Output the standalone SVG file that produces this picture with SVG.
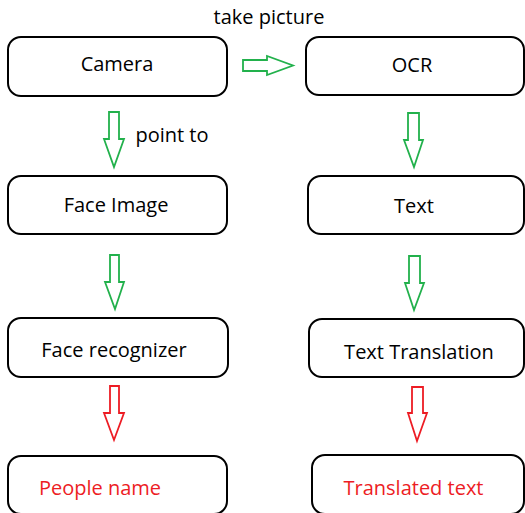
<svg xmlns="http://www.w3.org/2000/svg" width="525" height="513" viewBox="0 0 525 513">
<style>
.box{fill:#fff;stroke:#000;stroke-width:2}
.t{font-family:"Open Sans","Noto Sans",sans-serif;font-size:20px;fill:#000;text-anchor:middle}
.r{fill:#ed1c24}
.ga{fill:none;stroke:#22b14c;stroke-width:1.8;stroke-linejoin:miter}
.ra{fill:none;stroke:#ed1c24;stroke-width:1.8;stroke-linejoin:miter}
</style>
<rect width="525" height="513" fill="#fff"/>
<g id="camera"><rect class="box" x="8" y="37" width="219" height="59" rx="13"/><text class="t" x="117" y="71">Camera</text></g>
<g id="ocr"><rect class="box" x="306" y="37" width="218" height="58" rx="13"/><text class="t" x="412" y="72">OCR</text></g>
<g id="face-image"><rect class="box" x="8" y="176" width="219" height="58" rx="13"/><text class="t" x="116" y="212">Face Image</text></g>
<g id="text"><rect class="box" x="308" y="176" width="216" height="58" rx="13"/><text class="t" x="414" y="213">Text</text></g>
<g id="face-recognizer"><rect class="box" x="8" y="318" width="220" height="59" rx="13"/><text class="t" x="114" y="357">Face recognizer</text></g>
<g id="text-translation"><rect class="box" x="309" y="319" width="215" height="58" rx="13"/><text class="t" x="419" y="359">Text Translation</text></g>
<g id="people-name"><rect class="box" x="8" y="456" width="219" height="58" rx="13"/><text class="t r" x="100" y="495">People name</text></g>
<g id="translated-text"><rect class="box" x="312" y="455" width="212" height="59" rx="13"/><text class="t r" x="413.5" y="495">Translated text</text></g>
<g id="connectors">
<polygon class="ga" points="243,60 267,60 267,56 293,65.5 267,75 267,71 243,71"/>
<text class="t" x="269" y="24">take picture</text>
<polygon class="ga" points="109,112 119,112 119,139 124,139 114,167 104,139 109,139"/>
<text class="t" x="172" y="142">point to</text>
<polygon class="ga" points="408,113 419,113 419,140 423,140 414,167 404,140 408,140"/>
<polygon class="ga" points="110,255 119,255 119,282 124,282 115,309 105,282 110,282"/>
<polygon class="ga" points="409,256 420,256 420,283 424,283 414,310 405,283 409,283"/>
<polygon class="ra" points="110,386 119,386 119,413 124,413 114,440 104,413 110,413"/>
<polygon class="ra" points="412,387 423,387 423,413 427,413 417,441 408,413 412,413"/>
</g>
</svg>
